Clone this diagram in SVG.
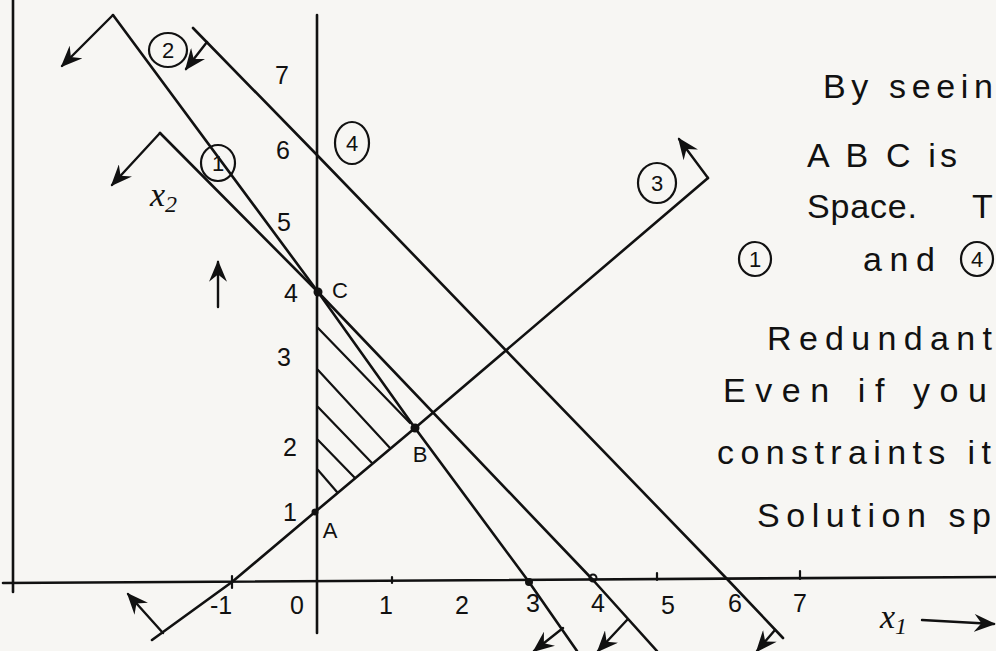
<svg xmlns="http://www.w3.org/2000/svg" width="996" height="651" viewBox="0 0 996 651">
<defs>
<style>
.ln{fill:none;stroke:#111;stroke-width:2.6;stroke-linecap:round;stroke-linejoin:round}
.ar{fill:none;stroke:#111;stroke-width:2.4;stroke-linecap:round;marker-end:url(#ah)}
.ht{fill:none;stroke:#111;stroke-width:2.2;stroke-linecap:round}
.num{font-family:"Liberation Sans",Arial,sans-serif;font-size:25px;fill:#111;text-anchor:middle}
.lab{font-family:"Liberation Sans",Arial,sans-serif;font-size:22px;fill:#111;text-anchor:middle}
.cl{fill:none;stroke:#111;stroke-width:2.2}
.tx{font-family:"Liberation Sans",Arial,sans-serif;font-size:34px;fill:#111}
.var{font-family:"Liberation Serif",serif;font-style:italic;font-size:34px;fill:#111}
.dot{fill:#111}
</style>
<marker id="ah" viewBox="0 0 12 10" refX="11" refY="5" markerWidth="22" markerHeight="18" markerUnits="userSpaceOnUse" orient="auto">
<path d="M0,0 L12,5 L0,10 L4,5 z" fill="#111"/>
</marker>
</defs>
<rect width="996" height="651" fill="#f7f6f3"/>

<g id="axes">
<line class="ln" x1="13" y1="0" x2="13" y2="592"/>
<line class="ln" x1="3" y1="583" x2="996" y2="577"/>
<line class="ln" x1="317" y1="15" x2="317" y2="633"/>
<line class="ht" x1="392" y1="577" x2="392" y2="583"/>
<line class="ht" x1="657" y1="573" x2="657" y2="580"/>
<line class="ht" x1="800" y1="571" x2="800" y2="579"/>
<line class="ht" x1="232" y1="576" x2="232" y2="588"/>
</g>

<g id="connectors">
<polyline id="line-1" class="ln" points="113,15 318,292 415,428 529,582 577,651"/>
<polyline id="line-2" class="ln" points="160,133 318,292 593,580 657,651"/>
<polyline id="line-4" class="ln" points="193,28 317,155 728,580 783,638"/>
<polyline id="line-3" class="ln" points="152,640 232,582 315,512 415,428 708,178"/>
<line class="ar" x1="113" y1="15" x2="62" y2="66"/>
<line class="ar" x1="160" y1="133" x2="112" y2="185"/>
<line class="ar" x1="207" y1="42" x2="186" y2="69"/>
<line class="ar" x1="708" y1="178" x2="679" y2="139"/>
<line class="ar" x1="163" y1="633" x2="128" y2="594"/>
<line class="ar" x1="563" y1="628" x2="534" y2="651"/>
<line class="ar" x1="627" y1="620" x2="598" y2="651"/>
<line class="ar" x1="775" y1="630" x2="757" y2="651"/>
<line class="ar" x1="218" y1="307" x2="218" y2="262"/>
<line class="ar" x1="922" y1="620" x2="994" y2="624"/>
</g>

<g id="hatching">
<line class="ht" x1="318" y1="328" x2="410" y2="423"/>
<line class="ht" x1="318" y1="370" x2="390" y2="448"/>
<line class="ht" x1="318" y1="407" x2="372" y2="463"/>
<line class="ht" x1="318" y1="440" x2="355" y2="478"/>
<line class="ht" x1="318" y1="470" x2="337" y2="492"/>
</g>

<g id="points">
<circle class="dot" cx="318" cy="292" r="4.5"/>
<circle class="dot" cx="415" cy="428" r="4.5"/>
<circle class="dot" cx="315" cy="512" r="3.5"/>
<circle class="dot" cx="529" cy="582" r="4"/>
<circle cx="593" cy="578" r="3.5" fill="none" stroke="#111" stroke-width="2"/>
<text class="lab" x="340" y="298" font-size="24">C</text>
<text class="lab" x="330" y="538" font-size="24">A</text>
<text class="lab" x="420" y="462" font-size="24">B</text>
</g>

<g id="tick-labels">
<text class="num" x="221" y="614">-1</text>
<text class="num" x="297" y="614">0</text>
<text class="num" x="386" y="614">1</text>
<text class="num" x="462" y="614">2</text>
<text class="num" x="533" y="612">3</text>
<text class="num" x="598" y="612">4</text>
<text class="num" x="668" y="614">5</text>
<text class="num" x="735" y="612">6</text>
<text class="num" x="800" y="612">7</text>
<text class="num" x="290" y="521">1</text>
<text class="num" x="290" y="456">2</text>
<text class="num" x="284" y="366">3</text>
<text class="num" x="291" y="302">4</text>
<text class="num" x="284" y="231">5</text>
<text class="num" x="283" y="159">6</text>
<text class="num" x="282" y="84">7</text>
</g>

<g id="constraint-labels">
<g id="c1"><ellipse class="cl" cx="218" cy="163" rx="17" ry="18"/><text class="lab" x="218" y="171">1</text></g>
<g id="c2"><ellipse class="cl" cx="168" cy="50" rx="19" ry="17"/><text class="lab" x="168" y="58">2</text></g>
<g id="c3"><ellipse class="cl" cx="657" cy="183" rx="19" ry="20"/><text class="lab" x="657" y="191">3</text></g>
<g id="c4"><ellipse class="cl" cx="352" cy="143" rx="17" ry="21"/><text class="lab" x="352" y="151">4</text></g>
</g>

<g id="axis-names">
<text class="var" x="150" y="206">x<tspan font-size="24" dy="6">2</tspan></text>
<text class="var" x="880" y="628">x<tspan font-size="24" dy="6">1</tspan></text>
</g>

<g id="note">
<text class="tx" x="823" y="98" textLength="170" lengthAdjust="spacing">By seein</text>
<text class="tx" x="807" y="167" textLength="150" lengthAdjust="spacing">A B C is</text>
<text class="tx" x="807" y="218" textLength="110" lengthAdjust="spacing">Space.</text>
<text class="tx" x="972" y="218">T</text>
<ellipse class="cl" cx="755" cy="259" rx="16" ry="17"/>
<text class="lab" x="755" y="267">1</text>
<text class="tx" x="863" y="271" textLength="72" lengthAdjust="spacing">and</text>
<ellipse class="cl" cx="977" cy="259" rx="16" ry="17"/>
<text class="lab" x="977" y="267">4</text>
<text class="tx" x="767" y="350" textLength="225" lengthAdjust="spacing">Redundant</text>
<text class="tx" x="723" y="402" textLength="264" lengthAdjust="spacing">Even if you</text>
<text class="tx" x="717" y="464" textLength="274" lengthAdjust="spacing">constraints it</text>
<text class="tx" x="757" y="527" textLength="234" lengthAdjust="spacing">Solution sp</text>
</g>
</svg>
